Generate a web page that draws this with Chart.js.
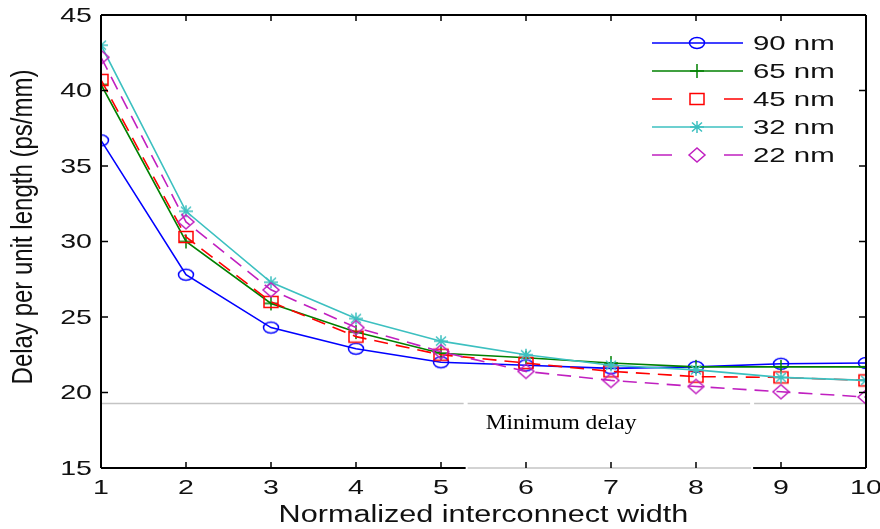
<!DOCTYPE html>
<html>
<head>
<meta charset="utf-8">
<script src="https://cdn.jsdelivr.net/npm/chart.js@4.4.1/dist/chart.umd.min.js"></script>
<style>
  html, body { margin: 0; padding: 0; background: #fff; }
  canvas { display: block; }
</style>
</head>
<body>
<canvas id="delay__graph" width="880" height="529"></canvas>
<script>
// data
const widths = [1, 2, 3, 4, 5, 6, 7, 8, 9, 10];
const delay90 = [36.7, 27.8, 24.3, 22.9, 22.0, 21.8, 21.6, 21.7, 21.9, 21.95];
const delay65 = [40.4, 30.0, 25.9, 24.0, 22.6, 22.3, 21.95, 21.7, 21.7, 21.7];
const delay45 = [40.7, 30.3, 26.0, 23.7, 22.5, 21.95, 21.4, 21.05, 21.0, 20.8];
const delay32 = [43.0, 32.0, 27.3, 24.9, 23.4, 22.5, 21.8, 21.5, 21.0, 20.8];
const delay22 = [42.2, 31.3, 26.8, 24.3, 22.7, 21.4, 20.8, 20.4, 20.05, 19.7];
const seriesLabels = ['90 nm', '65 nm', '45 nm', '32 nm', '22 nm'];
const xTicks = [1, 2, 3, 4, 5, 6, 7, 8, 9, 10];
const yTicks = [15, 20, 25, 30, 35, 40, 45];
const minDelayLevel = 19.3;

const FONT = '"Liberation Sans", Arial, sans-serif';
const STRETCH = 1.36; // the figure is squashed wider than tall

// marker images (slightly wide, like the source)
function makeMarker(kind, color) {
    const c = document.createElement('canvas');
    c.width = 22; c.height = 18;
    const g = c.getContext('2d');
    g.strokeStyle = color;
    g.lineWidth = 1.5;
    g.beginPath();
    if (kind === 'circle') {
        g.ellipse(11, 9, 7.5, 5.5, 0, 0, Math.PI * 2);
    } else if (kind === 'plus') {
        g.moveTo(11, 2); g.lineTo(11, 16);
        g.moveTo(4, 9); g.lineTo(18, 9);
    } else if (kind === 'square') {
        g.rect(4, 3.5, 14, 11);
    } else if (kind === 'star') {
        g.moveTo(11, 3); g.lineTo(11, 15);
        g.moveTo(4, 9); g.lineTo(18, 9);
        g.moveTo(6, 4.5); g.lineTo(16, 13.5);
        g.moveTo(16, 4.5); g.lineTo(6, 13.5);
    } else if (kind === 'diamond') {
        g.moveTo(3, 9); g.lineTo(11, 2); g.lineTo(19, 9); g.lineTo(11, 16); g.closePath();
    }
    g.stroke();
    return c;
}

const styles = [
    { color: '#0000ff', marker: 'circle', dash: [] },
    { color: '#008000', marker: 'plus', dash: [] },
    { color: '#ff0000', marker: 'square', dash: [14, 8] },
    { color: '#3cc0c0', marker: 'star', dash: [] },
    { color: '#c020c0', marker: 'diamond', dash: [14, 8] },
];
const seriesValues = [delay90, delay65, delay45, delay32, delay22];

const datasets = seriesValues.map((vals, i) => ({
    label: seriesLabels[i],
    data: widths.map((w, k) => ({ x: w, y: vals[k] })),
    borderColor: styles[i].color,
    borderWidth: 1.6,
    borderDash: styles[i].dash,
    pointStyle: makeMarker(styles[i].marker, styles[i].color),
    pointRadius: 8,
    tension: 0,
    fill: false,
    order: 5 - i,
}));

function stretchText(ctx, text, x, y, align, sx) {
    ctx.save();
    ctx.translate(x, y);
    ctx.scale(sx, 1);
    ctx.textAlign = align;
    ctx.fillText(text, 0, 0);
    ctx.restore();
}

// white "Minimum delay" box sitting over the bottom of the axes
const minDelayBox = {
    id: 'minDelayBox',
    beforeDatasetsDraw(chart) {
        const { ctx, scales: { x, y }, chartArea: a } = chart;
        const ly = Math.round(y.getPixelForValue(minDelayLevel)) + 0.5;
        const bx0 = x.getPixelForValue(5.29), bx1 = x.getPixelForValue(8.66);
        ctx.save();
        ctx.strokeStyle = '#c4c4c4';
        ctx.lineWidth = 1.5;
        ctx.beginPath();
        ctx.moveTo(a.left, ly); ctx.lineTo(bx0 - 2, ly);
        ctx.moveTo(bx0 + 2, ly); ctx.lineTo(bx1 - 2, ly);
        ctx.moveTo(bx1 + 2, ly); ctx.lineTo(a.right, ly);
        ctx.stroke();
        ctx.fillStyle = '#000';
        ctx.font = '21px "Liberation Serif", "Times New Roman", serif';
        ctx.textBaseline = 'alphabetic';
        stretchText(ctx, 'Minimum delay', bx0 + 20, ly + 25, 'left', 1.12);
        ctx.restore();
    }
};

// MATLAB style box, inward ticks, labels and legend
const matlabFrame = {
    id: 'matlabFrame',
    afterDraw(chart) {
        const { ctx, scales: { x, y }, chartArea: a } = chart;
        const bx0 = x.getPixelForValue(5.29), bx1 = x.getPixelForValue(8.66);
        ctx.save();
        ctx.strokeStyle = '#000';
        ctx.lineWidth = 2;
        ctx.beginPath();
        ctx.moveTo(a.left, a.top); ctx.lineTo(a.right, a.top);
        ctx.moveTo(a.right, a.top); ctx.lineTo(a.right, a.bottom);
        ctx.moveTo(a.left, a.top); ctx.lineTo(a.left, a.bottom);
        ctx.moveTo(a.left, a.bottom); ctx.lineTo(bx0, a.bottom);
        ctx.moveTo(bx1 + 1, a.bottom); ctx.lineTo(a.right, a.bottom);
        ctx.stroke();
        ctx.strokeStyle = '#c4c4c4';
        ctx.lineWidth = 1.5;
        ctx.beginPath();
        ctx.moveTo(bx0 + 2, a.bottom); ctx.lineTo(bx1 - 1, a.bottom);
        ctx.stroke();

        ctx.strokeStyle = '#000';
        ctx.lineWidth = 1.5;
        ctx.beginPath();
        xTicks.forEach(t => {
            const px = x.getPixelForValue(t);
            ctx.moveTo(px, a.bottom); ctx.lineTo(px, a.bottom - 6);
            ctx.moveTo(px, a.top); ctx.lineTo(px, a.top + 6);
        });
        yTicks.forEach(t => {
            const py = y.getPixelForValue(t);
            ctx.moveTo(a.left, py); ctx.lineTo(a.left + 7, py);
            ctx.moveTo(a.right, py); ctx.lineTo(a.right - 7, py);
        });
        ctx.stroke();

        ctx.fillStyle = '#111';
        ctx.font = '21px ' + FONT;
        ctx.textBaseline = 'middle';
        yTicks.forEach(t => stretchText(ctx, String(t), a.left - 9, y.getPixelForValue(t) + 1, 'right', STRETCH));
        ctx.textBaseline = 'alphabetic';
        xTicks.forEach(t => stretchText(ctx, String(t), x.getPixelForValue(t), a.bottom + 26, 'center', STRETCH));

        ctx.font = '23px ' + FONT;
        stretchText(ctx, 'Normalized interconnect width', (a.left + a.right) / 2, a.bottom + 54, 'center', 1.33);

        ctx.save();
        ctx.translate(24, 227);
        ctx.rotate(-Math.PI / 2);
        ctx.scale(1, 1.25);
        ctx.textAlign = 'center';
        ctx.textBaseline = 'middle';
        ctx.font = '24px ' + FONT;
        ctx.fillText('Delay per unit length (ps/mm)', 0, 0);
        ctx.restore();

        // legend
        const lx0 = 652, lx1 = 743, mx = 697, tx = 753;
        chart.data.datasets.forEach((ds, i) => {
            const ry = 43 + i * 28;
            ctx.strokeStyle = ds.borderColor;
            ctx.lineWidth = 1.5;
            ctx.beginPath();
            if (ds.borderDash.length) {
                ctx.moveTo(lx0, ry); ctx.lineTo(lx0 + 20, ry);
                ctx.moveTo(lx1 - 19, ry); ctx.lineTo(lx1, ry);
            } else {
                ctx.moveTo(lx0, ry); ctx.lineTo(lx1, ry);
            }
            ctx.stroke();
            const img = ds.pointStyle;
            ctx.drawImage(img, mx - img.width / 2, ry - img.height / 2);
            ctx.fillStyle = '#111';
            ctx.font = '21px ' + FONT;
            ctx.textBaseline = 'middle';
            stretchText(ctx, ds.label, tx, ry + 1, 'left', 1.4);
        });
        ctx.restore();
    }
};

new Chart(document.getElementById('delay__graph').getContext('2d'), {
    type: 'line',
    data: { datasets },
    options: {
        responsive: false,
        animation: false,
        devicePixelRatio: 1,
        layout: { padding: { top: 15, right: 14, left: 0, bottom: 0 } },
        plugins: {
            legend: { display: false },
            tooltip: { enabled: false },
            title: { display: false },
        },
        scales: {
            x: {
                type: 'linear',
                min: 1,
                max: 10,
                grid: { display: false },
                border: { display: false },
                ticks: { display: false, stepSize: 1 },
                afterFit: s => { s.height = 61; },
            },
            y: {
                min: 15,
                max: 45,
                grid: { display: false },
                border: { display: false },
                ticks: { display: false, stepSize: 5 },
                afterFit: s => { s.width = 101; },
            }
        }
    },
    plugins: [minDelayBox, matlabFrame]
});
</script>
</body>
</html>
